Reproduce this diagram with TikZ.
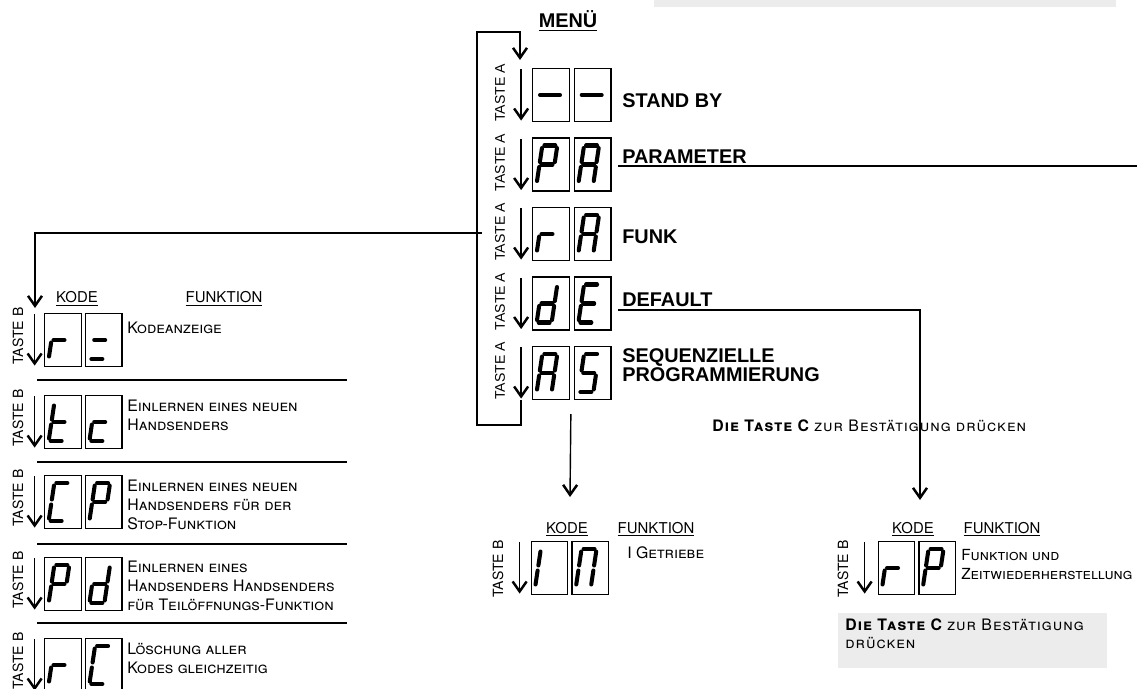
\documentclass[tikz,border=0pt]{standalone}
\usepackage{fontspec}
\setmainfont{Liberation Sans}
\newfontfamily\scfont{TeX Gyre Heros}
\newfontfamily\scwide[LetterSpace=6.5]{TeX Gyre Heros}
\usetikzlibrary{positioning,arrows.meta}
\tikzstyle{cell}=[draw, line width=0.7pt, minimum width=0.73cm, minimum height=1.06cm, inner sep=0pt]
\tikzstyle{segline}=[line width=2.3pt, line cap=round]
\tikzstyle{link}=[line width=0.8pt]
\tikzstyle{menutext}=[font=\bfseries\fontsize{11.3}{10.8}\selectfont, anchor=north west, inner sep=0pt, align=left]
\tikzstyle{fntext}=[font=\scfont\scshape\fontsize{9}{10.6}\selectfont, anchor=north west, inner sep=0pt, align=left]
\tikzstyle{confirm}=[font=\scwide\scshape\fontsize{9}{10.6}\selectfont, anchor=north west, inner sep=0pt, align=left]
\tikzstyle{head}=[font=\scfont\fontsize{8.5}{9}\selectfont, anchor=base, inner sep=0pt]
\tikzstyle{keya}=[font=\fontsize{8}{9}\selectfont, rotate=90, inner sep=0pt]
\tikzstyle{keyb}=[font=\scfont\fontsize{8}{9}\selectfont, rotate=90, inner sep=0pt]

% seven segment character inside a cell: #1 cell, #2 segments
\newcommand{\segdigit}[2]{%
  \begin{scope}[shift={(#1.center)}, xshift=-0.08cm, xslant=0.15]
    \coordinate (a1) at (-5.5,-19); \coordinate (a2) at (5.5,-19);
    \coordinate (b1) at (7.5,-16.5); \coordinate (b2) at (7.5,-2.5);
    \coordinate (c1) at (7.5,2.5); \coordinate (c2) at (7.5,16.5);
    \coordinate (d1) at (-5.5,19); \coordinate (d2) at (5.5,19);
    \coordinate (e1) at (-7.5,2.5); \coordinate (e2) at (-7.5,16.5);
    \coordinate (f1) at (-7.5,-16.5); \coordinate (f2) at (-7.5,-2.5);
    \coordinate (g1) at (-5.5,0); \coordinate (g2) at (5.5,0);
    \coordinate (m1) at (-7,0); \coordinate (m2) at (13,0);
    \foreach \s in {#2} {\draw[segline] (\s1) -- (\s2);}
  \end{scope}}

\begin{document}
\begin{tikzpicture}[x=0.02cm, y=-0.02cm, >={Straight Barb[length=2mm,width=2.8mm,line width=1.4pt]}]
	\useasboundingbox (0,0) rectangle (1137,689);
	\fill[gray!15] (654,0) rectangle (1116,7);
	\node[menutext, anchor=base] (menu) at (568,28) {\underline{MENÜ}};

	% menu
	\node[cell] (sb1) at (551,95) {};
	\node[cell, right=0.08cm of sb1] (sb2) {};
	\node[cell] (pa1) at (551,164.5) {};
	\node[cell, right=0.08cm of pa1] (pa2) {};
	\node[cell] (ra1) at (551,234) {};
	\node[cell, right=0.08cm of ra1] (ra2) {};
	\node[cell] (de1) at (551,303.5) {};
	\node[cell, right=0.08cm of de1] (de2) {};
	\node[cell] (as1) at (551,373) {};
	\node[cell, right=0.08cm of as1] (as2) {};
	\segdigit{sb1}{m} \segdigit{sb2}{m}
	\segdigit{pa1}{a,b,f,g,e} \segdigit{pa2}{a,b,c,e,f,g}
	\segdigit{ra1}{e,g} \segdigit{ra2}{a,b,c,e,f,g}
	\segdigit{de1}{b,c,d,e,g} \segdigit{de2}{a,d,e,f,g}
	\segdigit{as1}{a,b,c,e,f,g} \segdigit{as2}{a,f,g,c,d}
	\node[keya] (ka1) at (500,93) {TASTE A};
	\node[keya] (ka2) at (500,162.5) {TASTE A};
	\node[keya] (ka3) at (500,232) {TASTE A};
	\node[keya] (ka4) at (500,301.5) {TASTE A};
	\node[keya] (ka5) at (500,371) {TASTE A};
	\node[menutext] (standby) at (622,93) {STAND BY};
	\node[menutext] (param) at (622,149) {PARAMETER};
	\node[menutext] (funk) at (622,229) {FUNK};
	\node[menutext] (default) at (622,292) {DEFAULT};
	\node[menutext] (seq) at (622,348) {SEQUENZIELLE\\PROGRAMMIERUNG};
	\draw[link,->] ([xshift=-0.22cm,yshift=-0.03cm]sb1.north west) -- ([xshift=-0.22cm,yshift=0.03cm]sb1.south west);
	\draw[link,->] ([xshift=-0.22cm,yshift=-0.03cm]pa1.north west) -- ([xshift=-0.22cm,yshift=0.03cm]pa1.south west);
	\draw[link,->] ([xshift=-0.22cm,yshift=-0.03cm]ra1.north west) -- ([xshift=-0.22cm,yshift=0.03cm]ra1.south west);
	\draw[link,->] ([xshift=-0.22cm,yshift=-0.03cm]de1.north west) -- ([xshift=-0.22cm,yshift=0.03cm]de1.south west);
	\draw[link,->] ([xshift=-0.22cm,yshift=-0.03cm]as1.north west) -- ([xshift=-0.22cm,yshift=0.03cm]as1.south west);

	% loop back to stand by
	\coordinate (loopbl) at (477,425);
	\coordinate (looptl) at (477,32);
	\coordinate (loopin) at (520,60);
	\draw[link,->] ([xshift=-0.22cm]as1.south west) |- (loopbl) -- (looptl) -| (loopin);
	\coordinate (paline) at (618,166);
	\coordinate (paend) at (1137,166);
	\draw[link] (paline) -- (paend);

	% funk list
	\coordinate (branch) at (482,233);
	\coordinate (listin) at (35,308);
	\draw[link,->] (branch) -| (listin);
	\node[head] (kode1) at (77,303) {\underline{KODE}};
	\node[head] (fkt1) at (224,303) {\underline{FUNKTION}};
	\node[cell] (rk1) at (63,340) {};
	\node[cell, right=0.06cm of rk1] (rk2) {};
	\node[cell] (tc1) at (63,422) {};
	\node[cell, right=0.06cm of tc1] (tc2) {};
	\node[cell] (cp1) at (63,502) {};
	\node[cell, right=0.06cm of cp1] (cp2) {};
	\node[cell] (pd1) at (63,584) {};
	\node[cell, right=0.06cm of pd1] (pd2) {};
	\node[cell] (rc1) at (63,665) {};
	\node[cell, right=0.06cm of rc1] (rc2) {};
	\segdigit{rk1}{e,g} \segdigit{rk2}{g,d}
	\segdigit{tc1}{f,e,g,d} \segdigit{tc2}{g,e,d}
	\segdigit{cp1}{a,f,e,d} \segdigit{cp2}{a,b,f,g,e}
	\segdigit{pd1}{a,b,f,g,e} \segdigit{pd2}{b,c,d,e,g}
	\segdigit{rc1}{e,g} \segdigit{rc2}{a,f,e,d}
	\node[keyb] (kb1) at (18,336) {TASTE B};
	\node[keyb] (kb2) at (18,418) {TASTE B};
	\node[keyb] (kb3) at (18,498) {TASTE B};
	\node[keyb] (kb4) at (18,580) {TASTE B};
	\node[keyb] (kb5) at (18,661) {TASTE B};
	\draw[link,->] ([xshift=-0.19cm,yshift=-0.03cm]rk1.north west) -- ([xshift=-0.19cm,yshift=0.03cm]rk1.south west);
	\draw[link,->] ([xshift=-0.19cm,yshift=-0.03cm]tc1.north west) -- ([xshift=-0.19cm,yshift=0.03cm]tc1.south west);
	\draw[link,->] ([xshift=-0.19cm,yshift=-0.03cm]cp1.north west) -- ([xshift=-0.19cm,yshift=0.03cm]cp1.south west);
	\draw[link,->] ([xshift=-0.19cm,yshift=-0.03cm]pd1.north west) -- ([xshift=-0.19cm,yshift=0.03cm]pd1.south west);
	\draw[link,->] ([xshift=-0.19cm,yshift=-0.03cm]rc1.north west) -- ([xshift=-0.19cm,yshift=0.03cm]rc1.south west);
	\node[fntext] (t1) at (127,322) {Kodeanzeige};
	\node[fntext] (t2) at (127,400) {Einlernen eines neuen\\Handsenders};
	\node[fntext] (t3) at (127,480) {Einlernen eines neuen\\Handsenders für der\\Stop-Funktion};
	\node[fntext] (t4) at (127,561) {Einlernen eines\\Handsenders Handsenders\\für Teilöffnungs-Funktion};
	\node[fntext] (t5) at (127,643) {Löschung aller\\Kodes gleichzeitig};
	\draw[link] (37,380) -- (347,380);
	\draw[link] (37,462) -- (347,462);
	\draw[link] (37,544) -- (347,544);
	\draw[link] (37,623) -- (347,623);

	% sequential programming
	\coordinate (midin) at (570,497);
	\draw[link,->] ([xshift=-0.06cm,yshift=-0.28cm]as2.south west) -- (midin);
	\node[head] (kode2) at (567,533) {\underline{KODE}};
	\node[head] (fkt2) at (656,533) {\underline{FUNKTION}};
	\node[cell] (in1) at (549.5,568) {};
	\node[cell, right=0.06cm of in1] (in2) {};
	\segdigit{in1}{e,f} \segdigit{in2}{a,b,c,e,f}
	\node[keyb] (kb6) at (498,569) {TASTE B};
	\draw[link,->] ([xshift=-0.22cm,yshift=-0.03cm]in1.north west) -- ([xshift=-0.22cm,yshift=0.03cm]in1.south west);
	\node[fntext] (t6) at (627,546) {I Getriebe};

	% default
	\coordinate (deline) at (618,310);
	\coordinate (rightin) at (920,500);
	\draw[link,->] (deline) -| (rightin);
	\node[confirm] (confirm1) at (712,419) {\bfseries Die Taste C \mdseries zur Bestätigung drücken};
	\node[head] (kode3) at (913,533) {\underline{KODE}};
	\node[head] (fkt3) at (1002,533) {\underline{FUNKTION}};
	\node[cell] (rp1) at (896.5,568) {};
	\node[cell, right=0.06cm of rp1] (rp2) {};
	\segdigit{rp1}{e,g} \segdigit{rp2}{a,b,f,g,e}
	\node[keyb] (kb7) at (843,569) {TASTE B};
	\draw[link,->] ([xshift=-0.26cm,yshift=-0.03cm]rp1.north west) -- ([xshift=-0.26cm,yshift=0.03cm]rp1.south west);
	\node[fntext, font=\scfont\scshape\fontsize{8.7}{10.6}\selectfont] (t7) at (961,549) {Funktion und\\Zeitwiederherstellung};
	\fill[gray!15] (838,613) rectangle (1107,668);
	\node[confirm] (confirm2) at (845,618) {\bfseries Die Taste C \mdseries zur Bestätigung\\drücken};
\end{tikzpicture}
\end{document}
